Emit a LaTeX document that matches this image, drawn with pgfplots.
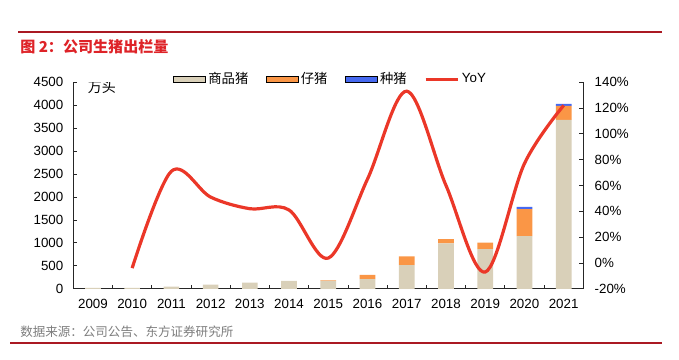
\documentclass[border=0pt]{standalone}
\usepackage{pgfplots}
\pgfplotsset{compat=1.18}
\usepackage{fontspec}
\setmainfont{Liberation Sans}
\newfontfamily\cjk{Noto Sans CJK SC}
\definecolor{tanc}{RGB}{217,208,185}
\definecolor{orangec}{RGB}{250,150,70}
\definecolor{bluec}{RGB}{70,105,240}
\definecolor{redl}{RGB}{235,55,40}
\definecolor{titler}{RGB}{222,35,40}
\definecolor{darkr}{RGB}{170,25,35}
\definecolor{greyt}{RGB}{125,125,125}
\begin{document}
\begin{tikzpicture}
\useasboundingbox (0,0) rectangle (509.25pt,270pt);
\pgfplotsset{
  common/.style={
    scale only axis, width=382.5pt, height=155pt,
    at={(54.98pt,53.4pt)}, anchor=south west,
    xmin=2008.5, xmax=2021.5,
    tick align=inside,
    major tick length=3pt, minor tick length=3pt,
    /pgf/number format/assume math mode=true,
    /pgf/number format/1000 sep={},
    tick label style={font=\fontsize{10}{12}\selectfont},
    axis line style={black!85, line width=0.6pt},
    tick style={black!85, line width=0.6pt},
  }
}
\begin{axis}[common,
  axis y line*=left, axis x line*=bottom,
  ymin=0, ymax=4500, ytick={0,500,...,4500},
  xtick={2009,...,2021},
  major x tick style={draw=none},
  minor xtick={2009.5,2010.5,...,2020.5},
  ybar stacked, bar width=0.4,
  xticklabel style={yshift=-4.5pt},
  yticklabel style={xshift=-4pt},
]
\addplot[fill=tanc, draw=none] coordinates {
(2009,22) (2010,22) (2011,45) (2012,90) (2013,133) (2014,175) (2015,175)
(2016,209) (2017,518) (2018,988) (2019,864) (2020,1145) (2021,3680)};
\addplot[fill=orangec, draw=none] coordinates {
(2009,0) (2010,0) (2011,0) (2012,0) (2013,0) (2014,0) (2015,10)
(2016,93) (2017,188) (2018,92) (2019,144) (2020,590) (2021,305)};
\addplot[fill=bluec, draw=none] coordinates {
(2009,0) (2010,0) (2011,0) (2012,0) (2013,0) (2014,0) (2015,0)
(2016,0) (2017,0) (2018,0) (2019,0) (2020,50) (2021,43)};
\node[anchor=center, font=\cjk\fontsize{10.5}{12}\selectfont] at (rel axis cs:0.056,0.975) {万头};
\end{axis}
\begin{axis}[common,
  axis y line*=right, axis x line=none,
  ymin=-20, ymax=140, ytick={-20,0,...,140},
  yticklabel={\pgfmathprintnumber{\tick}\%},
  yticklabel style={xshift=5pt},
  legend style={at={(0.505,1.0145)}, anchor=center, draw=none, fill=none,
    legend columns=4, font=\cjk\fontsize{10}{12}\selectfont,
    /tikz/every even column/.append style={column sep=11pt},
    inner sep=0pt},
  legend cell align=left,
]
\addlegendimage{legend image code/.code={\path[fill=tanc] (0pt,-2.25pt) rectangle (24pt,2.25pt);}}
\addlegendentry{商品猪}
\addlegendimage{legend image code/.code={\path[fill=orangec] (0pt,-2.25pt) rectangle (24pt,2.25pt);}}
\addlegendentry{仔猪}
\addlegendimage{legend image code/.code={\path[fill=bluec] (0pt,-2.25pt) rectangle (24pt,2.25pt);}}
\addlegendentry{种猪}
\addplot[redl, line width=2.4pt, smooth, tension=0.55,
  legend image code/.code={\draw[redl, line width=2.4pt] (0pt,0pt) -- (24pt,0pt);}]
coordinates {
(2010,-4) (2011,71) (2012,51) (2013,42) (2014,41) (2015,3.8)
(2016,65) (2017,133) (2018,60) (2019,-7) (2020,77) (2021,122)};
\addlegendentry{\rmfamily YoY}
\end{axis}
\begin{scope}[x=0.75pt, y=-0.75pt, yshift=270pt]
\draw[darkr, line width=0.9pt] (18,32) -- (662,32);
\node[anchor=west, inner sep=0pt, text=titler, font=\cjk\bfseries\fontsize{11.3}{13}\selectfont] at (20,47) {图 2：公司生猪出栏量};
\node[anchor=west, inner sep=0pt, text=greyt, font=\cjk\fontsize{9.4}{11}\selectfont] at (20,332) {数据来源：公司公告、东方证券研究所};
\draw[darkr, line width=0.9pt] (10,343) -- (662,343);
\end{scope}
\end{tikzpicture}
\end{document}
